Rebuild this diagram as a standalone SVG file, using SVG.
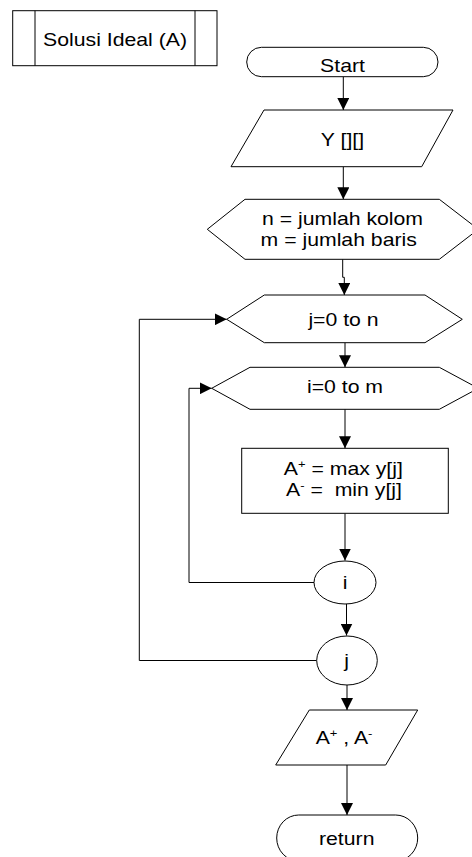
<svg xmlns="http://www.w3.org/2000/svg" width="472" height="857" viewBox="0 0 472 857">
  <style>
    .shape { fill: #fff; stroke: #000; stroke-width: 1; }
    .line { fill: none; stroke: #000; stroke-width: 1; }
    .lbl { font-family: "Liberation Sans", Arial, sans-serif; font-size: 18px; fill: #000; text-anchor: middle; }
    .sup { font-size: 11px; }
  </style>
  <defs>
    <marker id="arrow" markerUnits="userSpaceOnUse" markerWidth="12" markerHeight="12" refX="12" refY="6" orient="auto">
      <path d="M0,0 L12,6 L0,12 Z" fill="#000"/>
    </marker>
  </defs>

  <rect width="472" height="857" fill="#fff"/>

  <!-- connectors -->
  <g id="connectors" class="line" marker-end="url(#arrow)">
    <line x1="343.3" y1="76.7" x2="343.3" y2="110"/>
    <line x1="343.3" y1="166.7" x2="343.3" y2="199.3"/>
    <polyline points="342.7,259.3 342.7,277.3 344.3,277.3 344.3,295"/>
    <line x1="345" y1="342.7" x2="345" y2="367.3"/>
    <line x1="345" y1="409.3" x2="345" y2="448.3"/>
    <line x1="345" y1="513.3" x2="345" y2="560.5"/>
    <line x1="346.5" y1="604" x2="346.5" y2="635.5"/>
    <line x1="347" y1="685" x2="347" y2="710"/>
    <line x1="347" y1="765" x2="347" y2="815"/>
    <polyline points="314,582.5 189,582.5 189,388.3 211.7,388.3"/>
    <polyline points="316.7,660.5 139.3,660.5 139.3,319.3 226.7,319.3"/>
  </g>

  <!-- subroutine header -->
  <g id="subroutine">
    <rect class="shape" x="12.7" y="10.7" width="204.3" height="55"/>
    <line class="line" x1="35" y1="10.7" x2="35" y2="65.7"/>
    <line class="line" x1="195" y1="10.7" x2="195" y2="65.7"/>
    <text class="lbl" transform="translate(115,45.7) scale(1.18,1)">Solusi Ideal (A)</text>
  </g>

  <g id="start">
    <rect class="shape" x="246.7" y="47.3" width="191.3" height="29.4" rx="14.7" ry="14.7"/>
    <text class="lbl" transform="translate(342.5,71.5) scale(1.18,1)">Start</text>
  </g>

  <g id="input-y">
    <polygon class="shape" points="264,110 453,110 421.7,166.7 231,166.7"/>
    <text class="lbl" transform="translate(342.5,146) scale(1.18,1)">Y [][]</text>
  </g>

  <g id="init">
    <polygon class="shape" points="207.3,229.3 245,199.3 439.3,199.3 478.3,229.3 439.3,259.3 245,259.3"/>
    <text class="lbl" transform="translate(342.5,224.5) scale(1.18,1)">n = jumlah kolom</text>
    <text class="lbl" transform="translate(338.7,245.5) scale(1.18,1)">m = jumlah baris</text>
  </g>

  <g id="loop-j">
    <polygon class="shape" points="226.7,319.3 264.3,295 425,295 462.3,319.3 425,342.7 264.3,342.7"/>
    <text class="lbl" transform="translate(343.5,326) scale(1.18,1)">j=0 to n</text>
  </g>

  <g id="loop-i">
    <polygon class="shape" points="211.7,388.3 250,367.3 439.3,367.3 478.3,388.3 439.3,409.3 250,409.3"/>
    <text class="lbl" transform="translate(345,393.3) scale(1.18,1)">i=0 to m</text>
  </g>

  <g id="process">
    <rect class="shape" x="241.7" y="448.3" width="206.6" height="65"/>
    <text class="lbl" transform="translate(343.3,475) scale(1.18,1)">A<tspan class="sup" dy="-7">+</tspan><tspan dy="7"> = max y[j]</tspan></text>
    <text class="lbl" xml:space="preserve" transform="translate(344,495.7) scale(1.18,1)">A<tspan class="sup" dy="-7">-</tspan><tspan dy="7"> =  min y[j]</tspan></text>
  </g>

  <g id="next-i">
    <ellipse class="shape" cx="345" cy="582.5" rx="31" ry="21.5"/>
    <text class="lbl" transform="translate(345,588.5) scale(1.18,1)">i</text>
  </g>

  <g id="next-j">
    <ellipse class="shape" cx="347" cy="660.5" rx="30.3" ry="24.5"/>
    <text class="lbl" transform="translate(346.7,666.5) scale(1.18,1)">j</text>
  </g>

  <g id="output">
    <polygon class="shape" points="309.3,710 417.7,710 385.7,765 275.7,765"/>
    <text class="lbl" transform="translate(344,744) scale(1.18,1)">A<tspan class="sup" dy="-7">+</tspan><tspan dy="7"> , A</tspan><tspan class="sup" dy="-7">-</tspan></text>
  </g>

  <g id="return">
    <rect class="shape" x="276.7" y="815" width="141" height="46" rx="22" ry="23"/>
    <text class="lbl" transform="translate(346.7,845) scale(1.18,1)">return</text>
  </g>
</svg>
